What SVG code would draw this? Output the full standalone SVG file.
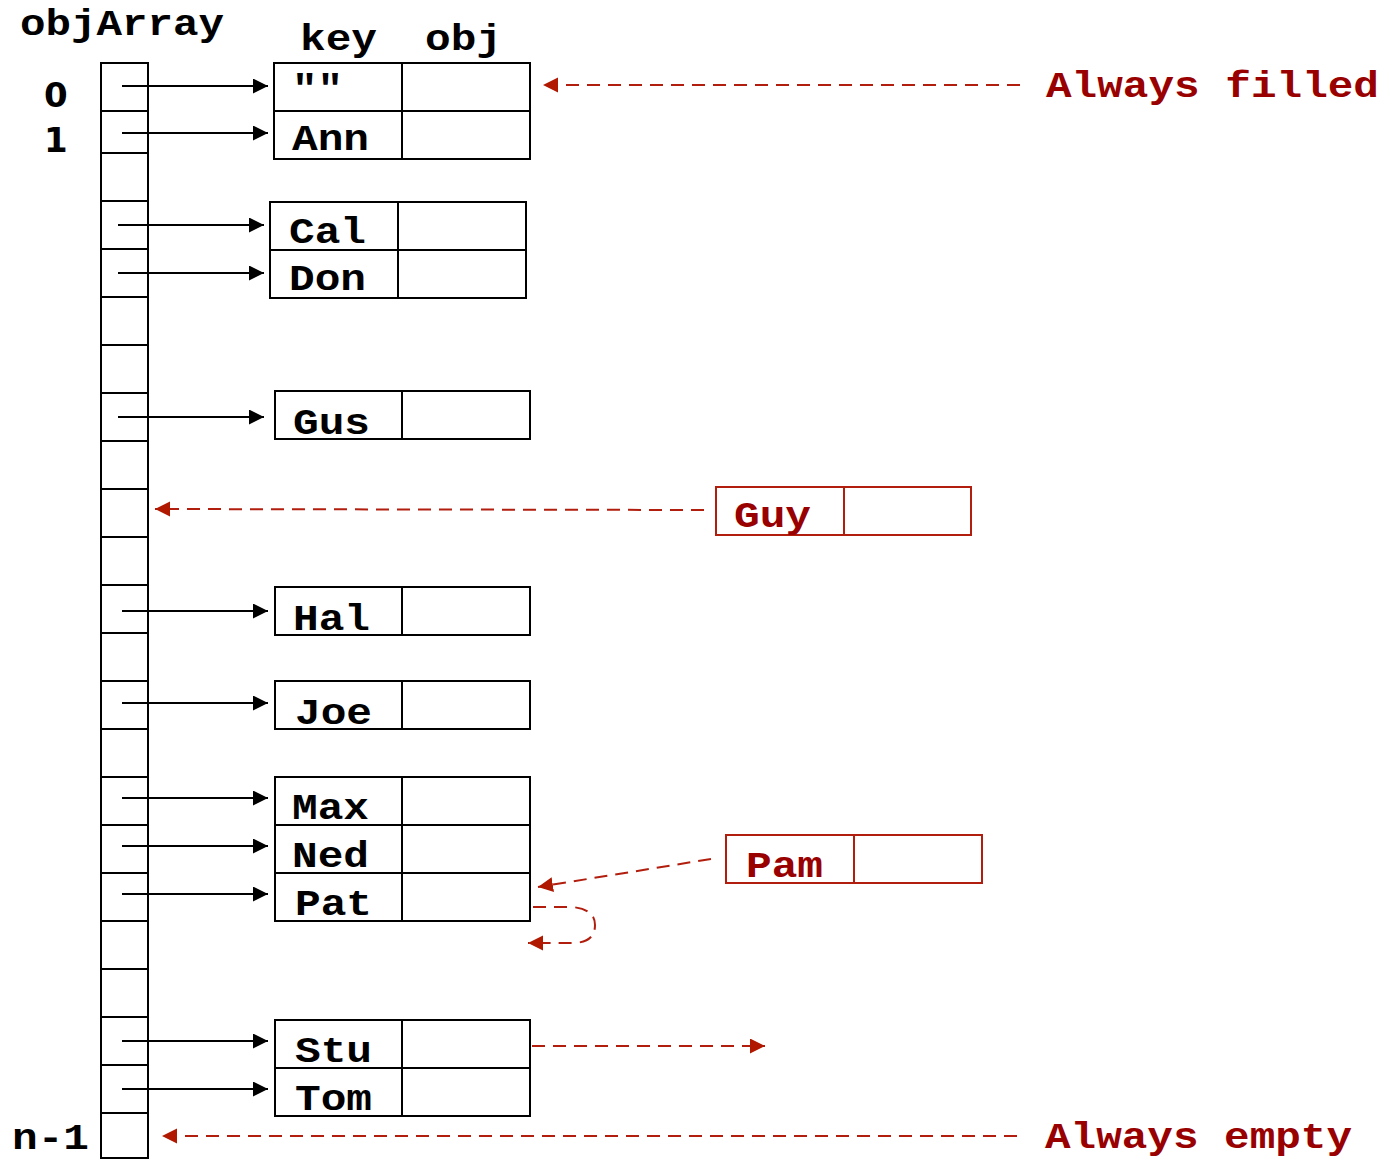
<svg xmlns="http://www.w3.org/2000/svg" width="1389" height="1159" viewBox="0 0 1389 1159">
<style>
.t{font-family:"Liberation Mono","Courier New",monospace;font-weight:bold;font-size:36px;fill:#000}
.r{fill:#990000}
.d{font-family:"DejaVu Sans",sans-serif;font-weight:bold;font-size:34px;fill:#000}
.box{fill:none;stroke:#000;stroke-width:2}
.rbox{fill:none;stroke:#b21e0e;stroke-width:2}
.arr{stroke:#000;stroke-width:2;fill:none;marker-end:url(#ab)}
.rarr{stroke:#b21e0e;stroke-width:2;fill:none;stroke-dasharray:13 8;marker-end:url(#ar)}
.tick{stroke:#000;stroke-width:2}
</style>
<defs>
<marker id="ab" markerUnits="userSpaceOnUse" markerWidth="16" markerHeight="16" refX="15" refY="7.5" orient="auto"><path d="M0,0 L15,7.5 L0,15 z" fill="#000"/></marker>
<marker id="ar" markerUnits="userSpaceOnUse" markerWidth="16" markerHeight="16" refX="15" refY="7.5" orient="auto"><path d="M0,0 L15,7.5 L0,15 z" fill="#b01800"/></marker>
</defs>
<rect width="1389" height="1159" fill="#fff"/>

<g id="labels">
<text class="t" x="20" y="35" textLength="204" lengthAdjust="spacingAndGlyphs">objArray</text>
<text class="t" x="300" y="50" textLength="77" lengthAdjust="spacingAndGlyphs">key</text>
<text class="t" x="425" y="50" textLength="77" lengthAdjust="spacingAndGlyphs">obj</text>
<text class="d" x="44" y="107">0</text>
<text class="d" x="44" y="152">1</text>
<text class="t" x="12" y="1149" textLength="77" lengthAdjust="spacingAndGlyphs">n-1</text>
<text class="t r" x="1046" y="97" textLength="333" lengthAdjust="spacingAndGlyphs">Always filled</text>
<text class="t r" x="1045" y="1148" textLength="307" lengthAdjust="spacingAndGlyphs">Always empty</text>
</g>

<g id="objArray">
<rect class="box" x="101" y="63" width="47" height="1095" stroke-width="2.5"/>
<path class="tick" d="M101,111H148M101,153H148M101,201H148M101,249H148M101,297H148M101,345H148M101,393H148M101,441H148M101,489H148M101,537H148M101,585H148M101,633H148M101,681H148M101,729H148M101,777H148M101,825H148M101,873H148M101,921H148M101,969H148M101,1017H148M101,1065H148M101,1113H148"/>
</g>

<g id="node-empty-ann">
<rect class="box" x="274" y="63" width="256" height="96"/>
<path class="box" d="M274,111H530M402,63V159"/>
<text class="t" x="292" y="100" textLength="51" lengthAdjust="spacingAndGlyphs">""</text>
<text class="t" x="292" y="150" textLength="77" lengthAdjust="spacingAndGlyphs">Ann</text>
</g>

<g id="node-cal-don">
<rect class="box" x="270" y="202" width="256" height="96"/>
<path class="box" d="M270,250H526M398,202V298"/>
<text class="t" x="289" y="243" textLength="77" lengthAdjust="spacingAndGlyphs">Cal</text>
<text class="t" x="289" y="290" textLength="77" lengthAdjust="spacingAndGlyphs">Don</text>
</g>

<g id="node-gus">
<rect class="box" x="275" y="391" width="255" height="48"/>
<path class="box" d="M402,391V439"/>
<text class="t" x="293" y="434" textLength="77" lengthAdjust="spacingAndGlyphs">Gus</text>
</g>

<g id="node-guy">
<rect class="rbox" x="716" y="487" width="255" height="48"/>
<path class="rbox" d="M844,487V535"/>
<text class="t r" x="734" y="527" textLength="77" lengthAdjust="spacingAndGlyphs">Guy</text>
</g>

<g id="node-hal">
<rect class="box" x="275" y="587" width="255" height="48"/>
<path class="box" d="M402,587V635"/>
<text class="t" x="293" y="630" textLength="77" lengthAdjust="spacingAndGlyphs">Hal</text>
</g>

<g id="node-joe">
<rect class="box" x="275" y="681" width="255" height="48"/>
<path class="box" d="M402,681V729"/>
<text class="t" x="295" y="724" textLength="77" lengthAdjust="spacingAndGlyphs">Joe</text>
</g>

<g id="node-max-ned-pat">
<rect class="box" x="275" y="777" width="255" height="144"/>
<path class="box" d="M275,825H530M275,873H530M402,777V921"/>
<text class="t" x="292" y="819" textLength="77" lengthAdjust="spacingAndGlyphs">Max</text>
<text class="t" x="292" y="867" textLength="77" lengthAdjust="spacingAndGlyphs">Ned</text>
<text class="t" x="295" y="915" textLength="77" lengthAdjust="spacingAndGlyphs">Pat</text>
</g>

<g id="node-pam">
<rect class="rbox" x="726" y="835" width="256" height="48"/>
<path class="rbox" d="M854,835V883"/>
<text class="t r" x="746" y="877" textLength="77" lengthAdjust="spacingAndGlyphs">Pam</text>
</g>

<g id="node-stu-tom">
<rect class="box" x="275" y="1020" width="255" height="96"/>
<path class="box" d="M275,1068H530M402,1020V1116"/>
<text class="t" x="295" y="1062" textLength="77" lengthAdjust="spacingAndGlyphs">Stu</text>
<text class="t" x="295" y="1110" textLength="77" lengthAdjust="spacingAndGlyphs">Tom</text>
</g>

<g id="connectors">
<path class="arr" d="M122,86H268"/>
<path class="arr" d="M122,133H268"/>
<path class="arr" d="M118,225H264"/>
<path class="arr" d="M118,273H264"/>
<path class="arr" d="M118,417H264"/>
<path class="arr" d="M122,611H268"/>
<path class="arr" d="M122,703H268"/>
<path class="arr" d="M122,798H268"/>
<path class="arr" d="M122,846H268"/>
<path class="arr" d="M122,894H268"/>
<path class="arr" d="M122,1041H268"/>
<path class="arr" d="M122,1089H268"/>
<path class="rarr" d="M1020,85H543" stroke-dasharray="8 3.5"/>
<path class="rarr" d="M704,510L155,509" stroke-dasharray="12 10"/>
<path class="rarr" d="M711,859L538,887" stroke-dasharray="15 7"/>
<path class="rarr" d="M533,907L572,907Q595,909 595,925Q595,943 572,943L528,943" stroke-dasharray="15 6"/>
<path class="rarr" d="M532,1046H765" stroke-dasharray="15 7"/>
<path class="rarr" d="M1017,1136H162" stroke-dasharray="12 10"/>
</g>
</svg>
